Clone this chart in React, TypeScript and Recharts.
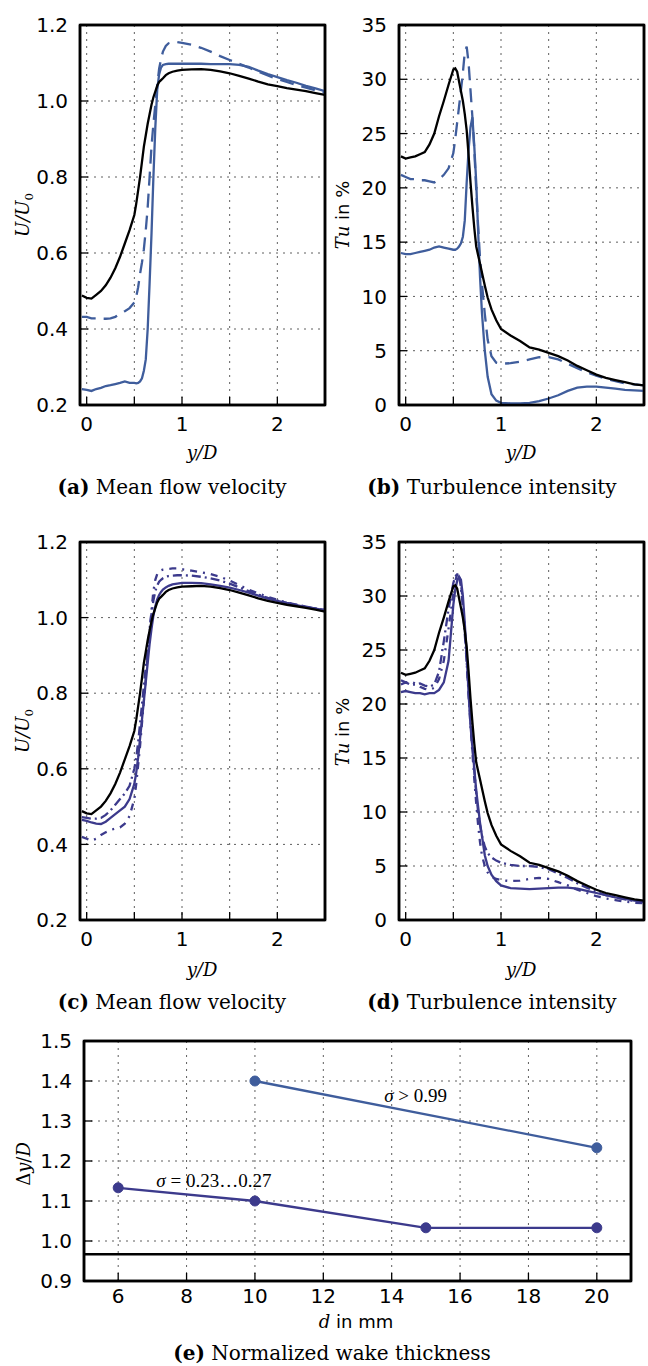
import React from "react";
import {
  LineChart,
  Line,
  XAxis,
  YAxis,
  CartesianGrid,
  ReferenceLine,
  ReferenceDot,
  ReferenceArea,
} from "recharts";

// y/D positions shared by the profile series
const yD = [
  -0.05, 0, 0.05, 0.1, 0.15, 0.2, 0.25, 0.3, 0.35, 0.4, 0.45, 0.5, 0.52, 0.54,
  0.56, 0.58, 0.6, 0.62, 0.64, 0.66, 0.68, 0.7, 0.72, 0.74, 0.76, 0.78, 0.8,
  0.83, 0.86, 0.9, 0.95, 1.0, 1.1, 1.2, 1.3, 1.4, 1.5, 1.6, 1.7, 1.8, 1.9, 2.0,
  2.1, 2.2, 2.3, 2.4, 2.5,
];

// mean velocity U/U0
const uRef = [
  0.488, 0.482, 0.48, 0.49, 0.5, 0.515, 0.535, 0.56, 0.59, 0.625, 0.66, 0.7,
  0.73, 0.765, 0.8, 0.84, 0.88, 0.91, 0.94, 0.965, 0.99, 1.01, 1.025, 1.04, 1.05,
  1.055, 1.06, 1.068, 1.073, 1.077, 1.08, 1.082, 1.083, 1.084, 1.082, 1.078,
  1.073, 1.066, 1.059, 1.051, 1.044, 1.039, 1.034, 1.03, 1.026, 1.021, 1.016,
];
const uA1 = [
  0.242, 0.24, 0.237, 0.242, 0.245, 0.25, 0.252, 0.255, 0.258, 0.262, 0.258,
  0.258, 0.257, 0.258, 0.262, 0.27, 0.29, 0.32, 0.4, 0.52, 0.65, 0.8, 0.93, 1.03,
  1.07, 1.088, 1.095, 1.097, 1.098, 1.098, 1.098, 1.098, 1.098, 1.098, 1.097,
  1.097, 1.097, 1.095, 1.09, 1.08, 1.071, 1.063, 1.055, 1.048, 1.04, 1.033, 1.026,
];
const uA2 = [
  0.432, 0.432, 0.428, 0.428, 0.427, 0.427, 0.428, 0.432, 0.44, 0.447, 0.455,
  0.47, 0.485, 0.51, 0.545, 0.575, 0.61, 0.66, 0.72, 0.8, 0.88, 0.94, 0.99, 1.04,
  1.085, 1.11, 1.13, 1.145, 1.152, 1.155, 1.155, 1.153, 1.148, 1.14, 1.13, 1.118,
  1.108, 1.098, 1.088, 1.077, 1.067, 1.058, 1.05, 1.042, 1.035, 1.028, 1.022,
];
const uC1 = [
  0.465, 0.462, 0.458, 0.455, 0.454, 0.46, 0.47, 0.48, 0.49, 0.5, 0.52, 0.56,
  0.59, 0.63, 0.68, 0.73, 0.78, 0.83, 0.88, 0.93, 0.97, 1.005, 1.03, 1.048, 1.06,
  1.068, 1.074, 1.08, 1.084, 1.088, 1.09, 1.092, 1.092, 1.091, 1.088, 1.084,
  1.079, 1.073, 1.066, 1.058, 1.05, 1.044, 1.038, 1.033, 1.028, 1.024, 1.02,
];
const uC2 = [
  0.472, 0.47, 0.468, 0.468, 0.47, 0.478, 0.49, 0.505, 0.52, 0.535, 0.555, 0.6,
  0.63, 0.67, 0.72, 0.77, 0.82, 0.87, 0.92, 0.97, 1.01, 1.045, 1.07, 1.085, 1.095,
  1.1, 1.104, 1.108, 1.11, 1.111, 1.112, 1.112, 1.111, 1.108, 1.104, 1.098, 1.09,
  1.08, 1.07, 1.061, 1.052, 1.045, 1.039, 1.034, 1.029, 1.024, 1.02,
];
const uC3 = [
  0.42, 0.415, 0.41, 0.415, 0.425, 0.432, 0.438, 0.442, 0.445, 0.455, 0.475,
  0.52, 0.56, 0.61, 0.66, 0.72, 0.78, 0.84, 0.9, 0.96, 1.02, 1.07, 1.1, 1.115,
  1.122, 1.125, 1.127, 1.128, 1.129, 1.13, 1.13, 1.128, 1.124, 1.12, 1.115, 1.108,
  1.098, 1.086, 1.074, 1.064, 1.055, 1.047, 1.04, 1.034, 1.029, 1.024, 1.02,
];

// turbulence intensity Tu in %
const tuRef = [
  22.9, 22.7, 22.8, 22.9, 23.1, 23.3, 24.0, 25.0, 26.6, 28.0, 29.5, 30.9, 31.0,
  30.7, 29.8, 28.9, 28.0, 26.8, 25.3, 23.0, 20.5, 18.3, 16.3, 14.6, 13.8, 13.0,
  12.2, 11.0, 9.9, 8.8, 7.8, 7.0, 6.4, 5.9, 5.3, 5.1, 4.8, 4.5, 4.1, 3.6, 3.2,
  2.8, 2.5, 2.3, 2.1, 1.9, 1.8,
];
const tuB1 = [
  14.0, 13.9, 13.9, 14.0, 14.1, 14.2, 14.3, 14.5, 14.6, 14.5, 14.4, 14.3, 14.3,
  14.4, 14.6, 14.9, 15.5, 17.0, 20.5, 23.5, 25.6, 26.5, 23.8, 20.5, 16.0, 11.8,
  8.5, 5.0, 2.6, 1.0, 0.4, 0.2, 0.15, 0.15, 0.2, 0.35, 0.6, 0.9, 1.3, 1.6, 1.7,
  1.7, 1.6, 1.5, 1.4, 1.35, 1.3,
];
const tuB2 = [
  21.2, 21.0, 20.8, 20.8, 20.7, 20.7, 20.6, 20.5, 20.8, 21.2, 21.8, 23.2, 24.5,
  26.0, 27.5, 29.0, 30.6, 32.5, 33.0, 31.5, 29.0, 26.5, 23.5, 19.8, 16.5, 13.5,
  11.2, 8.4, 6.0, 4.5, 3.9, 3.8, 3.85, 4.0, 4.2, 4.4, 4.4, 4.2, 3.8, 3.4, 3.0,
  2.7, 2.4, 2.2, 2.0, 1.9, 1.8,
];
const tuD1 = [
  21.1, 21.2, 21.1, 21.0, 21.0, 20.9, 21.0, 21.0, 21.3, 22.0, 24.0, 29.2, 30.6,
  31.4, 31.8, 31.5, 30.0, 27.5, 24.5, 21.0, 18.0, 16.0, 14.0, 12.0, 10.5, 9.0,
  7.8, 6.0, 5.0, 4.2, 3.6, 3.2, 2.95, 2.9, 2.85, 2.9, 2.95, 3.0, 3.0, 2.9, 2.7,
  2.5, 2.3, 2.1, 1.95, 1.8, 1.7,
];
const tuD2 = [
  22.2, 22.0, 21.8, 21.8, 21.9, 21.7, 21.6, 21.8, 23.0, 25.8, 28.8, 31.2, 31.8,
  32.0, 31.8, 30.8, 29.0, 26.5, 23.8, 21.0, 18.5, 16.0, 13.8, 11.8, 10.0, 8.8,
  7.8, 6.8, 6.2, 5.8, 5.5, 5.3, 5.1, 5.0, 5.0, 4.9, 4.7, 4.3, 3.9, 3.4, 3.0, 2.6,
  2.3, 2.1, 1.9, 1.75, 1.65,
];
const tuD3 = [
  21.8, 22.0, 22.1, 21.9, 21.6, 21.4, 21.3, 21.5, 22.3, 24.0, 27.0, 30.3, 31.4,
  32.0, 32.0, 31.2, 29.5, 27.0, 24.0, 21.0, 18.0, 15.5, 13.0, 10.8, 8.8, 7.2, 6.0,
  5.0, 4.4, 4.0, 3.8, 3.7, 3.6, 3.65, 3.8, 3.9, 3.8, 3.5, 3.2, 2.8, 2.5, 2.2,
  2.0, 1.85, 1.7, 1.6, 1.55,
];

// wake thickness vs wire diameter
const dHigh = [10, 20];
const wHigh = [1.4, 1.233];
const dLow = [6, 10, 15, 20];
const wLow = [1.133, 1.1, 1.033, 1.033];
const wakeBase = 0.967;

const xTicks = [0, 0.5, 1, 1.5, 2];
const uTicks = [0.2, 0.4, 0.6, 0.8, 1.0, 1.2];
const tuTicks = [0, 5, 10, 15, 20, 25, 30, 35];
const dTicks = [6, 8, 10, 12, 14, 16, 18, 20];
const wTicks = [0.9, 1.0, 1.1, 1.2, 1.3, 1.4, 1.5];

const BLUE = "#3f5d9c";
const INDIGO = "#3c3a8c";

const pts = (ys: number[]) => yD.map((x, i) => ({ x, y: ys[i] }));
const pairs = (xs: number[], ys: number[]) => xs.map((x, i) => ({ x, y: ys[i] }));

const tickFont = { fontFamily: "DejaVu Sans, sans-serif", fontSize: 20, fill: "#000" };
const axisLine = { stroke: "#000", strokeWidth: 2.5 };
const tickLine = { stroke: "#000", strokeWidth: 1.3 };

const intOnly = (v: number) => (Number.isInteger(v) ? String(v) : "");
const oneDec = (v: number) => v.toFixed(1);

function frame(
  xd: number[],
  xt: number[],
  yd: number[],
  yt: number[],
  fx: (v: number) => string,
  fy: (v: number) => string,
  yw: number,
  xGap: number
) {
  return [
    <CartesianGrid key="grid" stroke="#5e5e5e" strokeDasharray="2 5" strokeWidth={1} />,
    <XAxis
      key="xb"
      type="number"
      dataKey="x"
      domain={xd}
      ticks={xt}
      interval={0}
      allowDataOverflow
      tickFormatter={fx}
      tick={tickFont}
      tickSize={-8}
      tickMargin={xGap + 8}
      axisLine={axisLine}
      tickLine={tickLine}
      height={40}
    />,
    <XAxis
      key="xt"
      xAxisId="top"
      orientation="top"
      type="number"
      dataKey="x"
      domain={xd}
      ticks={xt}
      interval={0}
      allowDataOverflow
      tick={false}
      tickSize={-8}
      axisLine={axisLine}
      tickLine={tickLine}
      height={1}
    />,
    <YAxis
      key="yl"
      type="number"
      domain={yd}
      ticks={yt}
      interval={0}
      allowDataOverflow
      tickFormatter={fy}
      tick={tickFont}
      tickSize={-8}
      tickMargin={20}
      axisLine={axisLine}
      tickLine={tickLine}
      width={yw}
    />,
    <YAxis
      key="yr"
      yAxisId="right"
      orientation="right"
      type="number"
      domain={yd}
      ticks={yt}
      interval={0}
      allowDataOverflow
      tick={false}
      tickSize={-8}
      axisLine={axisLine}
      tickLine={tickLine}
      width={1}
    />,
    <ReferenceArea
      key="box"
      x1={xd[0]}
      x2={xd[1]}
      y1={yd[0]}
      y2={yd[1]}
      fill="none"
      fillOpacity={0}
      stroke="#000"
      strokeWidth={2.5}
      ifOverflow="visible"
    />,
  ];
}

function Lbl({ x, y, rot, size, children }: any) {
  return (
    <div
      style={{
        position: "absolute",
        left: x,
        top: y,
        transform: `translate(-50%, -50%)${rot ? " rotate(-90deg)" : ""}`,
        whiteSpace: "nowrap",
        fontFamily: "DejaVu Serif, serif",
        fontSize: size ?? 18,
        lineHeight: 1,
        color: "#000",
      }}
    >
      {children}
    </div>
  );
}

const annot = (node: React.ReactNode) => (p: any) => {
  const vb = p.viewBox || {};
  const cx = (vb.x ?? 0) + (vb.width ?? 0) / 2;
  const cy = (vb.y ?? 0) + (vb.height ?? 0) / 2;
  return (
    <text
      x={cx}
      y={cy}
      textAnchor="middle"
      dominantBaseline="central"
      fontFamily="Liberation Serif, serif"
      fontSize={19}
      fill="#000"
    >
      {node}
    </text>
  );
};

const xDom = [-0.07, 2.5];
const line = (data: any[], color: string, dash?: string, w = 2.3) => ({
  data,
  dataKey: "y",
  stroke: color,
  strokeWidth: w,
  strokeDasharray: dash,
  dot: false,
  isAnimationActive: false,
  type: "linear" as const,
});

const yDLabel = <span style={{ fontStyle: "italic" }}>y/D</span>;
const uLabel = (
  <span style={{ fontStyle: "italic" }}>
    U/U<sub style={{ fontSize: "0.65em", fontStyle: "normal" }}>0</sub>
  </span>
);
const tuLabel = (
  <span>
    <i>Tu</i>
    <span style={{ fontFamily: "DejaVu Sans, sans-serif" }}> in %</span>
  </span>
);

export default function App() {
  return (
    <div
      style={{
        position: "absolute",
        left: 0,
        top: 0,
        width: 648,
        height: 1366,
        background: "#fff",
        overflow: "hidden",
      }}
    >
      {/* (a) */}
      <div style={{ position: "absolute", left: 0, top: 0 }}>
        <LineChart width={330} height={445} margin={{ top: 24, right: 4, bottom: 0, left: 0 }}>
          {frame(xDom, xTicks, [0.2, 1.2], uTicks, intOnly, oneDec, 80, 12)}
          <Line {...line(pts(uA2), BLUE, "14 8")} />
          <Line {...line(pts(uA1), BLUE)} />
          <Line {...line(pts(uRef), "#000")} />
        </LineChart>
      </div>
      {/* (b) */}
      <div style={{ position: "absolute", left: 320, top: 0 }}>
        <LineChart width={328} height={445} margin={{ top: 24, right: 3, bottom: 0, left: 0 }}>
          {frame(xDom, xTicks, [0, 35], tuTicks, intOnly, String, 79, 12)}
          <Line {...line(pts(tuB2), BLUE, "14 8")} />
          <Line {...line(pts(tuB1), BLUE)} />
          <Line {...line(pts(tuRef), "#000")} />
        </LineChart>
      </div>
      {/* (c) */}
      <div style={{ position: "absolute", left: 0, top: 517 }}>
        <LineChart width={330} height={443} margin={{ top: 24, right: 4, bottom: 0, left: 0 }}>
          {frame(xDom, xTicks, [0.2, 1.2], uTicks, intOnly, oneDec, 80, 12)}
          <Line {...line(pts(uC3), INDIGO, "7 6 2 6")} />
          <Line {...line(pts(uC2), INDIGO, "9 4 2 4")} />
          <Line {...line(pts(uC1), INDIGO)} />
          <Line {...line(pts(uRef), "#000")} />
        </LineChart>
      </div>
      {/* (d) */}
      <div style={{ position: "absolute", left: 320, top: 517 }}>
        <LineChart width={328} height={443} margin={{ top: 24, right: 3, bottom: 0, left: 0 }}>
          {frame(xDom, xTicks, [0, 35], tuTicks, intOnly, String, 79, 12)}
          <Line {...line(pts(tuD3), INDIGO, "7 6 2 6")} />
          <Line {...line(pts(tuD2), INDIGO, "9 4 2 4")} />
          <Line {...line(pts(tuD1), INDIGO)} />
          <Line {...line(pts(tuRef), "#000")} />
        </LineChart>
      </div>
      {/* (e) */}
      <div style={{ position: "absolute", left: 0, top: 1016 }}>
        <LineChart width={648} height={305} margin={{ top: 24, right: 16, bottom: 0, left: 0 }}>
          {frame([5, 21], dTicks, [0.9, 1.5], wTicks, String, oneDec, 84, 8)}
          <ReferenceLine y={wakeBase} stroke="#000" strokeWidth={2.5} ifOverflow="extendDomain" />
          <Line
            {...line(pairs(dHigh, wHigh), BLUE)}
            dot={{ r: 5, fill: BLUE, stroke: BLUE, strokeWidth: 1 }}
          />
          <Line
            {...line(pairs(dLow, wLow), INDIGO)}
            dot={{ r: 5, fill: INDIGO, stroke: INDIGO, strokeWidth: 1 }}
          />
          <ReferenceDot
            x={14.7}
            y={1.365}
            r={0}
            fill="none"
            stroke="none"
            label={annot(
              <>
                <tspan fontStyle="italic">σ</tspan>
                <tspan> &gt; 0.99</tspan>
              </>
            )}
          />
          <ReferenceDot
            x={8.8}
            y={1.153}
            r={0}
            fill="none"
            stroke="none"
            label={annot(
              <>
                <tspan fontStyle="italic">σ</tspan>
                <tspan> = 0.23…0.27</tspan>
              </>
            )}
          />
        </LineChart>
      </div>

      {/* axis titles */}
      <Lbl x={25} y={215} rot>{uLabel}</Lbl>
      <Lbl x={343} y={215} rot>{tuLabel}</Lbl>
      <Lbl x={25} y={731} rot>{uLabel}</Lbl>
      <Lbl x={343} y={732} rot>{tuLabel}</Lbl>
      <Lbl x={24} y={1164} rot>
        <span>
          Δ<i>y</i>/<i>D</i>
        </span>
      </Lbl>
      <Lbl x={202} y={453}>{yDLabel}</Lbl>
      <Lbl x={521} y={453}>{yDLabel}</Lbl>
      <Lbl x={202} y={970}>{yDLabel}</Lbl>
      <Lbl x={521} y={970}>{yDLabel}</Lbl>
      <Lbl x={356} y={1322}>
        <span>
          <i>d</i>
          <span style={{ fontFamily: "DejaVu Sans, sans-serif" }}> in mm</span>
        </span>
      </Lbl>

      {/* captions */}
      <Lbl x={172} y={487} size={20}>
        <b>(a)</b> Mean flow velocity
      </Lbl>
      <Lbl x={492} y={487} size={20}>
        <b>(b)</b> Turbulence intensity
      </Lbl>
      <Lbl x={172} y={1002} size={20}>
        <b>(c)</b> Mean flow velocity
      </Lbl>
      <Lbl x={492} y={1002} size={20}>
        <b>(d)</b> Turbulence intensity
      </Lbl>
      <Lbl x={332} y={1353} size={20}>
        <b>(e)</b> Normalized wake thickness
      </Lbl>
    </div>
  );
}
